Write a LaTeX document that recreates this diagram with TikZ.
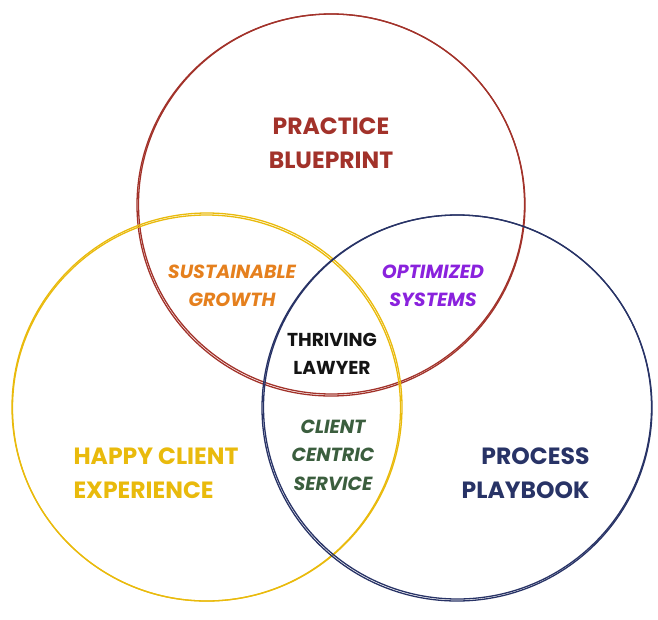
\documentclass[tikz,border=0pt]{standalone}
\usepackage{fontspec}
\setmainfont{Poppins}
\definecolor{cred}{HTML}{A2322A}
\definecolor{cyel}{HTML}{E9BA0C}
\definecolor{cnavy}{HTML}{283366}
\definecolor{corange}{HTML}{E5801E}
\definecolor{cpurple}{HTML}{8A22DD}
\definecolor{cgreen}{HTML}{3B5E3E}
\definecolor{cblack}{HTML}{141414}
\begin{document}
\begin{tikzpicture}[x=1pt,y=-1pt,
  ring/.style={line width=1.3pt},
  big/.style={font=\fontsize{23.5}{34}\selectfont\bfseries},
  mid/.style={font=\fontsize{19}{28.5}\selectfont\bfseries\itshape, align=center},
  thr/.style={font=\fontsize{18.7}{28.5}\selectfont\bfseries, align=center}]
\useasboundingbox (0,0) rectangle (658,619);
% red circle
\draw[ring,cred] (331,205) ellipse [x radius=194, y radius=191];
\draw[ring,cred] (331.5,204) ellipse [x radius=193, y radius=190];
% yellow circle
\draw[ring,cyel] (207,407) ellipse [x radius=195, y radius=194];
\draw[ring,cyel] (206.5,408) ellipse [x radius=194, y radius=193];
% navy circle
\draw[ring,cnavy] (457,408) ellipse [x radius=195, y radius=193];
\draw[ring,cnavy] (457.5,407) ellipse [x radius=194, y radius=192];
% labels
\node[big, text=cred, align=center] (pb) at (331,143) {PRACTICE\\BLUEPRINT};
\node[big, text=cyel, align=left, anchor=west] (hc) at (70,473) {HAPPY CLIENT\\EXPERIENCE};
\node[big, text=cnavy, align=right, anchor=east] (pp) at (593,473) {PROCESS\\PLAYBOOK};
\node[mid, text=corange] (sg) at (232,286) {SUSTAINABLE\\GROWTH};
\node[mid, text=cpurple] (os) at (433,286) {OPTIMIZED\\SYSTEMS};
\node[thr, text=cblack] (tl) at (332,354) {THRIVING\\LAWYER};
\node[mid, text=cgreen] (cc) at (333,455) {CLIENT\\CENTRIC\\SERVICE};
\end{tikzpicture}
\end{document}
